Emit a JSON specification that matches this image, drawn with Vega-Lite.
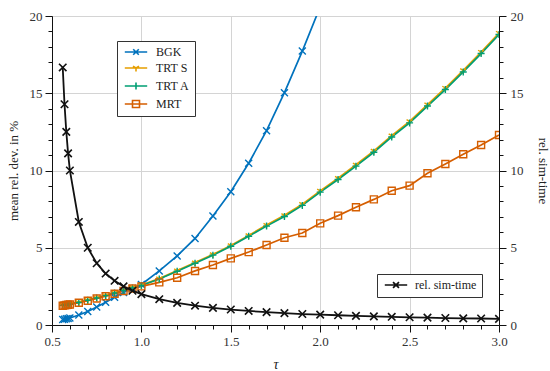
{
  "$schema": "https://vega.github.io/schema/vega-lite/v6.json",
  "width": 447,
  "height": 309,
  "autosize": {"type": "none"},
  "padding": {"left": 52, "top": 16, "right": 51, "bottom": 46},
  "background": "white",
  "config": {
    "view": {"stroke": "#111", "strokeWidth": 1},
    "font": "Liberation Serif, Times New Roman, serif",
    "axis": {
      "labelFont": "Liberation Serif, Times New Roman, serif",
      "labelFontSize": 13,
      "labelColor": "#333",
      "titleFont": "Liberation Serif, Times New Roman, serif",
      "titleFontSize": 13,
      "titleFontWeight": "normal",
      "titleColor": "#222",
      "domainColor": "#111",
      "tickColor": "#111",
      "gridColor": "#d4d4d4",
      "gridWidth": 1,
      "labelOverlap": false,
      "labelBound": false,
      "labelFlush": false
    },
    "legend": {
      "labelFont": "Liberation Serif, Times New Roman, serif",
      "labelFontSize": 12,
      "labelColor": "#222"
    }
  },
  "datasets": {
    "dev": [
      {"tau": 0.56, "series": "BGK", "value": 0.35},
      {"tau": 0.57, "series": "BGK", "value": 0.37},
      {"tau": 0.58, "series": "BGK", "value": 0.4},
      {"tau": 0.59, "series": "BGK", "value": 0.42},
      {"tau": 0.6, "series": "BGK", "value": 0.45},
      {"tau": 0.65, "series": "BGK", "value": 0.65},
      {"tau": 0.7, "series": "BGK", "value": 0.87},
      {"tau": 0.75, "series": "BGK", "value": 1.17},
      {"tau": 0.8, "series": "BGK", "value": 1.47},
      {"tau": 0.85, "series": "BGK", "value": 1.79},
      {"tau": 0.9, "series": "BGK", "value": 2.1},
      {"tau": 0.95, "series": "BGK", "value": 2.37},
      {"tau": 1.0, "series": "BGK", "value": 2.62},
      {"tau": 1.1, "series": "BGK", "value": 3.5},
      {"tau": 1.2, "series": "BGK", "value": 4.47},
      {"tau": 1.3, "series": "BGK", "value": 5.6},
      {"tau": 1.4, "series": "BGK", "value": 7.05},
      {"tau": 1.5, "series": "BGK", "value": 8.63},
      {"tau": 1.6, "series": "BGK", "value": 10.47},
      {"tau": 1.7, "series": "BGK", "value": 12.58},
      {"tau": 1.8, "series": "BGK", "value": 15.04},
      {"tau": 1.9, "series": "BGK", "value": 17.73},
      {"tau": 2.0, "series": "BGK", "value": 20.6},
      {"tau": 0.56, "series": "TRT S", "value": 1.28},
      {"tau": 0.57, "series": "TRT S", "value": 1.3},
      {"tau": 0.58, "series": "TRT S", "value": 1.32},
      {"tau": 0.59, "series": "TRT S", "value": 1.34},
      {"tau": 0.6, "series": "TRT S", "value": 1.36},
      {"tau": 0.65, "series": "TRT S", "value": 1.47},
      {"tau": 0.7, "series": "TRT S", "value": 1.61},
      {"tau": 0.75, "series": "TRT S", "value": 1.76},
      {"tau": 0.8, "series": "TRT S", "value": 1.91},
      {"tau": 0.85, "series": "TRT S", "value": 2.08},
      {"tau": 0.9, "series": "TRT S", "value": 2.25},
      {"tau": 0.95, "series": "TRT S", "value": 2.42},
      {"tau": 1.0, "series": "TRT S", "value": 2.58},
      {"tau": 1.1, "series": "TRT S", "value": 3.0},
      {"tau": 1.2, "series": "TRT S", "value": 3.52},
      {"tau": 1.3, "series": "TRT S", "value": 4.04},
      {"tau": 1.4, "series": "TRT S", "value": 4.57},
      {"tau": 1.5, "series": "TRT S", "value": 5.15},
      {"tau": 1.6, "series": "TRT S", "value": 5.8},
      {"tau": 1.7, "series": "TRT S", "value": 6.47},
      {"tau": 1.8, "series": "TRT S", "value": 7.1},
      {"tau": 1.9, "series": "TRT S", "value": 7.82},
      {"tau": 2.0, "series": "TRT S", "value": 8.68},
      {"tau": 2.1, "series": "TRT S", "value": 9.5},
      {"tau": 2.2, "series": "TRT S", "value": 10.37},
      {"tau": 2.3, "series": "TRT S", "value": 11.27},
      {"tau": 2.4, "series": "TRT S", "value": 12.26},
      {"tau": 2.5, "series": "TRT S", "value": 13.18},
      {"tau": 2.6, "series": "TRT S", "value": 14.27},
      {"tau": 2.7, "series": "TRT S", "value": 15.34},
      {"tau": 2.8, "series": "TRT S", "value": 16.48},
      {"tau": 2.9, "series": "TRT S", "value": 17.67},
      {"tau": 3.0, "series": "TRT S", "value": 18.9},
      {"tau": 0.56, "series": "TRT A", "value": 1.27},
      {"tau": 0.57, "series": "TRT A", "value": 1.29},
      {"tau": 0.58, "series": "TRT A", "value": 1.31},
      {"tau": 0.59, "series": "TRT A", "value": 1.33},
      {"tau": 0.6, "series": "TRT A", "value": 1.35},
      {"tau": 0.65, "series": "TRT A", "value": 1.46},
      {"tau": 0.7, "series": "TRT A", "value": 1.6},
      {"tau": 0.75, "series": "TRT A", "value": 1.75},
      {"tau": 0.8, "series": "TRT A", "value": 1.9},
      {"tau": 0.85, "series": "TRT A", "value": 2.07},
      {"tau": 0.9, "series": "TRT A", "value": 2.24},
      {"tau": 0.95, "series": "TRT A", "value": 2.4},
      {"tau": 1.0, "series": "TRT A", "value": 2.56},
      {"tau": 1.1, "series": "TRT A", "value": 2.98},
      {"tau": 1.2, "series": "TRT A", "value": 3.48},
      {"tau": 1.3, "series": "TRT A", "value": 4.0},
      {"tau": 1.4, "series": "TRT A", "value": 4.52},
      {"tau": 1.5, "series": "TRT A", "value": 5.1},
      {"tau": 1.6, "series": "TRT A", "value": 5.74},
      {"tau": 1.7, "series": "TRT A", "value": 6.4},
      {"tau": 1.8, "series": "TRT A", "value": 7.02},
      {"tau": 1.9, "series": "TRT A", "value": 7.74},
      {"tau": 2.0, "series": "TRT A", "value": 8.6},
      {"tau": 2.1, "series": "TRT A", "value": 9.42},
      {"tau": 2.2, "series": "TRT A", "value": 10.28},
      {"tau": 2.3, "series": "TRT A", "value": 11.18},
      {"tau": 2.4, "series": "TRT A", "value": 12.17},
      {"tau": 2.5, "series": "TRT A", "value": 13.08},
      {"tau": 2.6, "series": "TRT A", "value": 14.17},
      {"tau": 2.7, "series": "TRT A", "value": 15.24},
      {"tau": 2.8, "series": "TRT A", "value": 16.38},
      {"tau": 2.9, "series": "TRT A", "value": 17.57},
      {"tau": 3.0, "series": "TRT A", "value": 18.8},
      {"tau": 0.56, "series": "MRT", "value": 1.25},
      {"tau": 0.57, "series": "MRT", "value": 1.27},
      {"tau": 0.58, "series": "MRT", "value": 1.29},
      {"tau": 0.59, "series": "MRT", "value": 1.31},
      {"tau": 0.6, "series": "MRT", "value": 1.33},
      {"tau": 0.65, "series": "MRT", "value": 1.44},
      {"tau": 0.7, "series": "MRT", "value": 1.57},
      {"tau": 0.75, "series": "MRT", "value": 1.72},
      {"tau": 0.8, "series": "MRT", "value": 1.86},
      {"tau": 0.85, "series": "MRT", "value": 2.02},
      {"tau": 0.9, "series": "MRT", "value": 2.2},
      {"tau": 0.95, "series": "MRT", "value": 2.36},
      {"tau": 1.0, "series": "MRT", "value": 2.5},
      {"tau": 1.1, "series": "MRT", "value": 2.76},
      {"tau": 1.2, "series": "MRT", "value": 3.06},
      {"tau": 1.3, "series": "MRT", "value": 3.5},
      {"tau": 1.4, "series": "MRT", "value": 3.88},
      {"tau": 1.5, "series": "MRT", "value": 4.31},
      {"tau": 1.6, "series": "MRT", "value": 4.72},
      {"tau": 1.7, "series": "MRT", "value": 5.18},
      {"tau": 1.8, "series": "MRT", "value": 5.65},
      {"tau": 1.9, "series": "MRT", "value": 5.95},
      {"tau": 2.0, "series": "MRT", "value": 6.58},
      {"tau": 2.1, "series": "MRT", "value": 7.08},
      {"tau": 2.2, "series": "MRT", "value": 7.62},
      {"tau": 2.3, "series": "MRT", "value": 8.13},
      {"tau": 2.4, "series": "MRT", "value": 8.69},
      {"tau": 2.5, "series": "MRT", "value": 9.02},
      {"tau": 2.6, "series": "MRT", "value": 9.82},
      {"tau": 2.7, "series": "MRT", "value": 10.42},
      {"tau": 2.8, "series": "MRT", "value": 11.05},
      {"tau": 2.9, "series": "MRT", "value": 11.65},
      {"tau": 3.0, "series": "MRT", "value": 12.3}
    ],
    "time": [
      {"tau": 0.56, "series": "rel. sim-time", "value": 16.67},
      {"tau": 0.57, "series": "rel. sim-time", "value": 14.29},
      {"tau": 0.58, "series": "rel. sim-time", "value": 12.5},
      {"tau": 0.59, "series": "rel. sim-time", "value": 11.11},
      {"tau": 0.6, "series": "rel. sim-time", "value": 10.0},
      {"tau": 0.65, "series": "rel. sim-time", "value": 6.67},
      {"tau": 0.7, "series": "rel. sim-time", "value": 5.0},
      {"tau": 0.75, "series": "rel. sim-time", "value": 4.0},
      {"tau": 0.8, "series": "rel. sim-time", "value": 3.33},
      {"tau": 0.85, "series": "rel. sim-time", "value": 2.86},
      {"tau": 0.9, "series": "rel. sim-time", "value": 2.5},
      {"tau": 0.95, "series": "rel. sim-time", "value": 2.22},
      {"tau": 1.0, "series": "rel. sim-time", "value": 2.0},
      {"tau": 1.1, "series": "rel. sim-time", "value": 1.67},
      {"tau": 1.2, "series": "rel. sim-time", "value": 1.43},
      {"tau": 1.3, "series": "rel. sim-time", "value": 1.25},
      {"tau": 1.4, "series": "rel. sim-time", "value": 1.11},
      {"tau": 1.5, "series": "rel. sim-time", "value": 1.0},
      {"tau": 1.6, "series": "rel. sim-time", "value": 0.91},
      {"tau": 1.7, "series": "rel. sim-time", "value": 0.83},
      {"tau": 1.8, "series": "rel. sim-time", "value": 0.77},
      {"tau": 1.9, "series": "rel. sim-time", "value": 0.71},
      {"tau": 2.0, "series": "rel. sim-time", "value": 0.67},
      {"tau": 2.1, "series": "rel. sim-time", "value": 0.63},
      {"tau": 2.2, "series": "rel. sim-time", "value": 0.59},
      {"tau": 2.3, "series": "rel. sim-time", "value": 0.56},
      {"tau": 2.4, "series": "rel. sim-time", "value": 0.53},
      {"tau": 2.5, "series": "rel. sim-time", "value": 0.5},
      {"tau": 2.6, "series": "rel. sim-time", "value": 0.48},
      {"tau": 2.7, "series": "rel. sim-time", "value": 0.45},
      {"tau": 2.8, "series": "rel. sim-time", "value": 0.43},
      {"tau": 2.9, "series": "rel. sim-time", "value": 0.42},
      {"tau": 3.0, "series": "rel. sim-time", "value": 0.4}
    ]
  },
  "layer": [
    {
      "data": {"name": "dev"},
      "encoding": {
        "x": {
          "field": "tau", "type": "quantitative",
          "scale": {"domain": [0.5, 3.0], "nice": false, "zero": false},
          "axis": {
            "title": "τ",
            "titleFontStyle": "italic",
            "titleFontSize": 14,
            "titlePadding": 9,
            "values": [0.5, 0.6, 0.7, 0.8, 0.9, 1.0, 1.1, 1.2, 1.3, 1.4, 1.5, 1.6, 1.7, 1.8, 1.9, 2.0, 2.1, 2.2, 2.3, 2.4, 2.5, 2.6, 2.7, 2.8, 2.9, 3.0],
            "labelExpr": "abs(datum.value*2 - round(datum.value*2)) < 0.01 ? format(datum.value, '.1f') : ''",
            "grid": true,
            "gridOpacity": {"condition": {"test": "abs(datum.value*2 - round(datum.value*2)) < 0.01", "value": 1}, "value": 0},
            "tickSize": {"condition": {"test": "abs(datum.value*2 - round(datum.value*2)) < 0.01", "value": 7}, "value": 4},
            "labelPadding": 3
          }
        },
        "y": {
          "field": "value", "type": "quantitative",
          "scale": {"domain": [0, 20], "nice": false},
          "axis": {
            "title": "mean rel. dev. in %",
            "titlePadding": 9,
            "values": [0, 1, 2, 3, 4, 5, 6, 7, 8, 9, 10, 11, 12, 13, 14, 15, 16, 17, 18, 19, 20],
            "labelExpr": "datum.value % 5 === 0 ? format(datum.value, 'd') : ''",
            "grid": true,
            "gridOpacity": {"condition": {"test": "datum.value % 5 === 0", "value": 1}, "value": 0},
            "tickSize": {"condition": {"test": "datum.value % 5 === 0", "value": 7}, "value": 4},
            "labelPadding": 3
          }
        },
        "color": {
          "field": "series", "type": "nominal",
          "scale": {"domain": ["BGK", "TRT S", "TRT A", "MRT"], "range": ["#0072BD", "#E69F00", "#009E73", "#D55E00"]},
          "legend": {
            "orient": "none", "legendX": 65, "legendY": 25, "title": null,
            "strokeColor": "#333", "fillColor": "white", "padding": 5,
            "symbolSize": 49, "symbolStrokeWidth": 1.5, "symbolOffset": 8, "labelOffset": 14, "rowPadding": 4,
            "encode": {
              "symbols": {
                "update": {
                  "shape": {"signal": "datum.value === 'BGK' ? 'M-3.2,0L3.2,0M-0.8,-0.8L0.8,0.8M0.8,-0.8L-0.8,0.8' : datum.value === 'TRT S' ? 'M-3.2,0L3.2,0M0,0L0,1M0,0L-0.87,-0.5M0,0L0.87,-0.5' : datum.value === 'TRT A' ? 'M-3.2,0L3.2,0M0,-1L0,1' : 'M-3.2,0L3.2,0M-1,-1L1,-1L1,1L-1,1Z'"},
                  "fill": {"value": "transparent"},
                  "strokeWidth": {"value": 1.6}
                }
              }
            }
          }
        }
      },
      "layer": [
        {"mark": {"type": "line", "clip": true, "strokeWidth": 1.7}},
        {
          "mark": {"type": "point", "clip": true, "filled": false, "strokeWidth": 1.4, "size": 49, "opacity": 1},
          "encoding": {
            "shape": {
              "field": "series", "type": "nominal",
              "scale": {"domain": ["BGK", "TRT S", "TRT A", "MRT"], "range": ["M-1,-1L1,1M1,-1L-1,1", "M0,0L0,1M0,0L-0.87,-0.5M0,0L0.87,-0.5", "M0,-1L0,1M-1,0L1,0", "M-1,-1L1,-1L1,1L-1,1Z"]},
              "legend": null
            }
          }
        }
      ]
    },
    {
      "data": {"name": "time"},
      "encoding": {
        "x": {"field": "tau", "type": "quantitative", "axis": null},
        "y": {
          "field": "value", "type": "quantitative",
          "scale": {"domain": [0, 20], "nice": false},
          "axis": {
            "orient": "right",
            "title": "rel. sim-time",
            "titlePadding": 12,
            "values": [0, 1, 2, 3, 4, 5, 6, 7, 8, 9, 10, 11, 12, 13, 14, 15, 16, 17, 18, 19, 20],
            "labelExpr": "datum.value % 5 === 0 ? format(datum.value, 'd') : ''",
            "grid": false,
            "tickSize": {"condition": {"test": "datum.value % 5 === 0", "value": 7}, "value": 4},
            "labelPadding": 4
          }
        },
        "color": {
          "field": "series", "type": "nominal",
          "scale": {"domain": ["rel. sim-time"], "range": ["#111111"]},
          "legend": {
            "orient": "none", "legendX": 325, "legendY": 258, "title": null,
            "strokeColor": "#333", "fillColor": "white", "padding": 5,
            "symbolSize": 49, "symbolStrokeWidth": 1.6, "symbolOffset": 8, "labelOffset": 13,
            "encode": {
              "symbols": {
                "update": {
                  "shape": {"value": "M-3.2,0L3.2,0M-0.85,-0.85L0.85,0.85M0.85,-0.85L-0.85,0.85"},
                  "fill": {"value": "transparent"},
                  "strokeWidth": {"value": 1.7}
                }
              }
            }
          }
        }
      },
      "layer": [
        {"mark": {"type": "line", "clip": true, "strokeWidth": 1.8}},
        {"mark": {"type": "point", "clip": true, "filled": false, "strokeWidth": 1.6, "size": 56, "opacity": 1, "shape": "M-1,-1L1,1M1,-1L-1,1"}}
      ]
    }
  ],
  "resolve": {
    "scale": {"y": "independent", "color": "independent"},
    "axis": {"x": "independent", "y": "independent"}
  }
}
